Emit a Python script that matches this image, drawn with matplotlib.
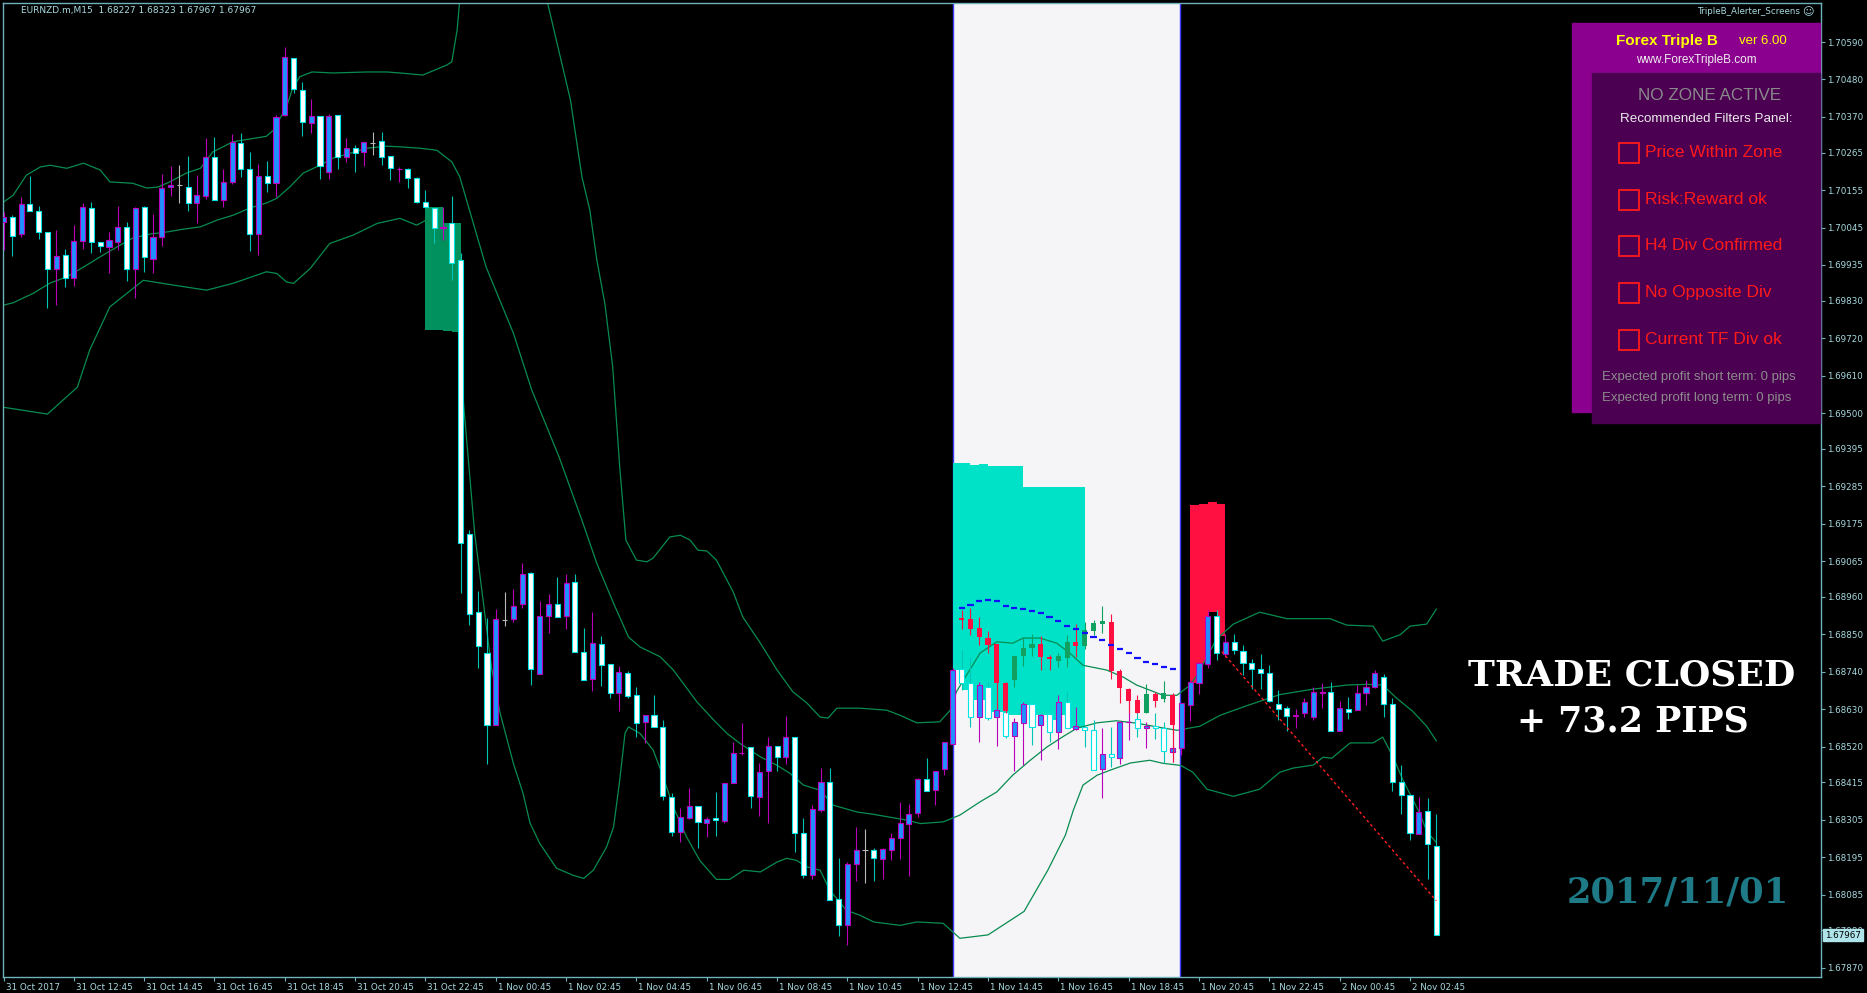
import numpy as np
import matplotlib.pyplot as plt
from matplotlib.patches import Rectangle
from matplotlib import transforms

W, H = 1867, 993
DPI = 100

# EURNZD.m M15, one candle per bar starting 31 Oct 2017 10:45, prices in points (1e-5)
opens = np.array([
    170062, 170075, 170026, 170113, 170095, 170031, 169923, 169965, 169897, 170005,
    170101, 170002, 169988, 170002, 170047, 169922, 170106, 169954, 170018, 170164,
    170169, 170163, 170117, 170138, 170253, 170125, 170178, 170292, 170218, 170025,
    170196, 170176, 170375, 170543, 170449, 170352, 170372, 170209, 170377, 170253,
    170280, 170266, 170293, 170299, 170255, 170216, 170216, 170190, 170119, 170102,
    170045, 170058, 169949, 169144, 168915, 168795, 168583, 168891, 168894, 168938,
    169030, 168733, 168903, 168938, 168903, 169003, 168797, 168718, 168821, 168762,
    168677, 168736, 168671, 168592, 168612, 168577, 168371, 168269, 168310, 168345,
    168295, 168310, 168301, 168413, 168500, 168518, 168371, 168448, 168521, 168489,
    168548, 168266, 168142, 168333, 168415, 168072, 167995, 168175, 168216, 168216,
    168189, 168216, 168251, 168292, 168324, 168424, 168392, 168454, 168527, 168748,
    168706, 168607, 168695, 168607, 168621, 168551, 168589, 168645, 168583, 168615,
    168562, 168651, 168571, 168577, 168568, 168454, 168498, 168486, 168591, 168601,
    168574, 168580, 168574, 168504, 168515, 168642, 168706, 168762, 168903, 168792,
    168827, 168800, 168765, 168748, 168736, 168645, 168633, 168611, 168618, 168607,
    168679, 168680, 168565, 168630, 168627, 168677, 168695, 168724, 168645, 168415,
    168377, 168263, 168330, 168227]) / 1e5
highs = np.array([
    170091, 170081, 170135, 170197, 170109, 170031, 170037, 169983, 170052, 170117,
    170120, 170002, 170032, 170109, 170062, 170106, 170109, 170086, 170202, 170225,
    170228, 170255, 170199, 170307, 170310, 170216, 170319, 170323, 170267, 170231,
    170240, 170375, 170574, 170543, 170473, 170422, 170372, 170378, 170377, 170307,
    170287, 170297, 170325, 170325, 170255, 170222, 170219, 170194, 170155, 170102,
    170105, 170137, 169970, 169156, 168977, 168897, 168924, 168974, 168983, 169059,
    169033, 168947, 168968, 169018, 169027, 169027, 168868, 168915, 168844, 168762,
    168756, 168742, 168695, 168612, 168671, 168598, 168383, 168339, 168398, 168345,
    168313, 168386, 168413, 168533, 168589, 168518, 168471, 168548, 168521, 168609,
    168548, 168310, 168348, 168457, 168457, 168192, 168180, 168283, 168277, 168222,
    168222, 168266, 168357, 168351, 168427, 168486, 168448, 168533, 168750, 168803,
    168783, 168709, 168709, 168648, 168621, 168604, 168651, 168648, 168615, 168618,
    168671, 168680, 168636, 168580, 168598, 168574, 168577, 168595, 168656, 168633,
    168592, 168618, 168592, 168621, 168648, 168715, 168768, 168921, 168921, 168850,
    168850, 168818, 168777, 168792, 168759, 168686, 168639, 168630, 168662, 168695,
    168706, 168709, 168654, 168665, 168701, 168715, 168745, 168733, 168662, 168465,
    168377, 168371, 168369, 168323]) / 1e5
lows = np.array([
    169979, 169961, 170016, 170095, 170010, 169810, 169817, 169871, 169873, 169983,
    169969, 169973, 169912, 169979, 169888, 169837, 169915, 169912, 169990, 170139,
    170117, 170094, 170059, 170130, 170125, 170106, 170174, 170192, 169976, 169963,
    170149, 170135, 170372, 170441, 170313, 170323, 170189, 170189, 170216, 170238,
    170209, 170226, 170258, 170228, 170184, 170178, 170161, 170117, 170105, 169999,
    170008, 169890, 168971, 168877, 168750, 168468, 168583, 168874, 168886, 168927,
    168701, 168733, 168853, 168900, 168865, 168797, 168715, 168683, 168698, 168662,
    168624, 168662, 168548, 168530, 168577, 168363, 168257, 168239, 168307, 168222,
    168254, 168257, 168295, 168413, 168495, 168339, 168316, 168295, 168448, 168468,
    168210, 168133, 168130, 168327, 168069, 167963, 167937, 168125, 168119, 168125,
    168130, 168186, 168189, 168139, 168313, 168389, 168348, 168436, 168527, 168686,
    168577, 168533, 168598, 168521, 168545, 168448, 168465, 168524, 168480, 168533,
    168512, 168574, 168568, 168518, 168451, 168369, 168460, 168468, 168539, 168548,
    168515, 168542, 168471, 168474, 168495, 168595, 168674, 168750, 168774, 168783,
    168792, 168730, 168689, 168689, 168651, 168598, 168565, 168574, 168607, 168598,
    168633, 168565, 168565, 168601, 168627, 168642, 168692, 168607, 168389, 168322,
    168245, 168263, 168130, 167967]) / 1e5
closes = np.array([
    170076, 170020, 170113, 170095, 170031, 169923, 169962, 169897, 170005, 170106,
    170002, 169990, 170008, 170047, 169922, 170101, 169959, 170018, 170160, 170169,
    170169, 170117, 170140, 170253, 170125, 170178, 170295, 170218, 170025, 170196,
    170176, 170370, 170546, 170452, 170355, 170374, 170225, 170374, 170253, 170280,
    170263, 170297, 170293, 170252, 170219, 170218, 170190, 170119, 170105, 170043,
    170047, 169940, 169118, 168909, 168815, 168583, 168894, 168891, 168933, 169027,
    168748, 168903, 168938, 168900, 169000, 168797, 168715, 168824, 168759, 168677,
    168739, 168668, 168589, 168612, 168577, 168374, 168269, 168313, 168345, 168298,
    168307, 168304, 168413, 168501, 168502, 168374, 168445, 168521, 168489, 168548,
    168266, 168142, 168336, 168415, 168069, 167995, 168175, 168216, 168216, 168192,
    168219, 168251, 168295, 168322, 168424, 168389, 168448, 168533, 168745, 168706,
    168607, 168701, 168604, 168627, 168551, 168592, 168645, 168577, 168612, 168562,
    168651, 168574, 168580, 168568, 168451, 168498, 168489, 168592, 168593, 168574,
    168580, 168574, 168507, 168515, 168648, 168709, 168765, 168903, 168795, 168827,
    168803, 168765, 168748, 168736, 168654, 168630, 168609, 168613, 168651, 168680,
    168681, 168565, 168633, 168621, 168677, 168695, 168736, 168645, 168415, 168377,
    168266, 168327, 168233, 167967]) / 1e5

# second (red/green) candle set shown inside the highlighted window
ov_start = 109
ov_open = np.array([168899, 168894, 168868, 168839, 168821, 168706, 168715, 168786, 168809, 168821,
                    168783, 168771, 168780, 168827, 168815, 168859, 168880, 168886, 168742, 168689,
                    168656, 168618, 168674, 168659, 168671]) / 1e5
ov_high = np.array([168921, 168927, 168900, 168859, 168821, 168709, 168786, 168841, 168850, 168844,
                    168789, 168795, 168847, 168880, 168886, 168891, 168933, 168909, 168748, 168692,
                    168671, 168703, 168680, 168712, 168677]) / 1e5
ov_low = np.array([168867, 168847, 168818, 168795, 168633, 168618, 168695, 168756, 168786, 168745,
                   168745, 168753, 168753, 168783, 168806, 168847, 168853, 168718, 168648, 168618,
                   168618, 168618, 168636, 168651, 168474]) / 1e5
ov_close = np.array([168893, 168867, 168841, 168818, 168706, 168624, 168786, 168809, 168821, 168783,
                     168777, 168786, 168827, 168815, 168862, 168883, 168889, 168742, 168692, 168654,
                     168618, 168674, 168654, 168677, 168583]) / 1e5
# blue step line (same bars)
step_vals = np.array([168927, 168936, 168948, 168950, 168948, 168934, 168927, 168924, 168918, 168912,
                      168900, 168889, 168874, 168865, 168853, 168841, 168833, 168818, 168806, 168795,
                      168780, 168768, 168762, 168753, 168748]) / 1e5

# Bollinger bands (bar position, price)
upper_x = [0, 1.1, 2.6, 4.2, 5.3, 7.2, 9.1, 11.0, 12.1, 14.7, 16.3, 17.6, 18.9, 20.8, 22.4, 23.8,
           26.1, 29.9, 30.7, 32.2, 32.9, 33.7, 35.1, 37.5, 41.3, 43.6, 45.1, 47.7, 50.4, 51.0,
           51.6, 52.0, 53, 56, 59, 61, 61.9, 64.5, 65.8, 66.7, 67.5, 68.4, 69.3, 70.1, 70.8,
           72.0, 73.2, 73.9, 75.8, 77.0, 78.1, 79.0, 80.0, 81.1, 83.0, 84.1, 86.1, 88.0, 89.8,
           91.4, 92.9, 93.8, 94.8, 97.4, 100.5, 102.0, 103.9, 106.5, 107.7, 108.4, 109.2, 111.1,
           113.0, 114.8, 116.0, 117.9, 119.8, 121.3, 122.8, 125.5, 127.4, 128.9, 130.4, 131.9,
           133.5, 135.0, 135.7, 138.0, 139.9, 142.9, 146.0, 150.9, 152.8, 155.8, 156.9, 158.9,
           160.0, 161.9, 163]
upper_y = np.array([170120, 170140, 170199, 170223, 170228, 170219, 170234, 170214, 170179, 170175,
                    170161, 170164, 170179, 170205, 170219, 170267, 170297, 170313, 170331, 170400,
                    170455, 170488, 170502, 170499, 170502, 170502, 170499, 170493, 170522, 170532,
                    170625, 170742, 170950, 171000, 170980, 170816, 170704, 170419, 170194, 170096,
                    169949, 169823, 169636, 169342, 169127, 169068, 169063, 169074, 169136, 169141,
                    169127, 169097, 169095, 169068, 168975, 168901, 168824, 168745, 168681, 168648,
                    168607, 168604, 168633, 168633, 168627, 168612, 168590, 168593, 168627, 168681,
                    168715, 168795, 168828, 168824, 168839, 168839, 168824, 168795, 168759, 168745,
                    168724, 168701, 168686, 168671, 168671, 168701, 168727, 168836, 168880, 168915,
                    168896, 168896, 168877, 168874, 168830, 168849, 168874, 168880, 168924]) / 1e5
mid_x = [0, 1.1, 3.4, 5.3, 7.2, 9.1, 11.0, 12.9, 14.7, 16.7, 18.6, 20.4, 22.4, 24.3, 26.1, 28.0,
         29.9, 31.1, 32.6, 34.1, 36.0, 37.5, 39.4, 41.3, 43.6, 45.1, 47.4, 49.3, 51.0, 51.9, 54.9,
         58.0, 60.1, 63.2, 65.8, 67.5, 69.4, 71.1, 72.4, 74.7, 76.2, 78.9, 80.8, 82.3, 83.8, 86.1,
         88.0, 89.5, 91.0, 92.9, 94.4, 97.1, 99.0, 102.8, 104.3, 106.9, 108.8, 111.1, 113.0, 114.8,
         116.8, 118.7, 120.5, 122.1, 124.4, 126.6, 128.9, 131.2, 133.5, 136.1, 138.4, 141.4, 145.2,
         149.0, 152.8, 155.1, 156.9, 158.5, 160.3, 161.9, 163]
mid_y = np.array([169817, 169824, 169852, 169882, 169900, 169929, 169959, 169988, 170014, 170026,
                  170032, 170040, 170047, 170067, 170081, 170102, 170117, 170131, 170165, 170205,
                  170228, 170249, 170263, 170278, 170284, 170282, 170278, 170272, 170238, 170194,
                  169929, 169735, 169567, 169371, 169185, 169058, 168941, 168842, 168813, 168784,
                  168745, 168651, 168598, 168559, 168529, 168490, 168465, 168441, 168407, 168392,
                  168348, 168328, 168321, 168304, 168294, 168299, 168319, 168358, 168387, 168436,
                  168480, 168519, 168549, 168574, 168590, 168596, 168589, 168578, 168568, 168580,
                  168612, 168640, 168673, 168689, 168701, 168703, 168701, 168662, 168624, 168580,
                  168537]) / 1e5
low_x = [0, 5.0, 8.4, 9.8, 12.1, 15.9, 19.3, 23.1, 26.1, 29.9, 31.1, 32.2, 33.0, 34.9, 37.1, 39.8,
         42.5, 45.1, 47.0, 48.1, 49.0, 51.0, 51.7, 52.3, 53.6, 54.6, 55.5, 56.5, 58.0, 59.1, 59.9,
         61.0, 62.9, 64.8, 66.0, 67.1, 68.6, 69.4, 70.1, 70.7, 71.1, 72.4, 73.9, 74.9, 76.2, 77.7,
         79.2, 81.1, 82.6, 84.2, 86.1, 88.0, 89.1, 90.2, 91.4, 92.9, 94.0, 95.9, 97.4, 99.0, 102.0,
         103.9, 106.9, 108.8, 112.0, 116.1, 118.8, 120.8, 121.7, 122.8, 124.4, 125.9, 128.2, 130.4,
         131.9, 133.9, 135.3, 136.9, 139.9, 142.9, 145.2, 146.7, 149.0, 150.1, 151.1, 153.2, 155.8,
         156.9, 158.1, 159.2, 161.1, 161.9, 163]
low_y = np.array([169517, 169497, 169576, 169685, 169812, 169890, 169876, 169861, 169881, 169915,
                  169910, 169885, 169881, 169925, 169998, 170023, 170057, 170072, 170052, 170067,
                  170037, 169973, 169871, 169538, 169146, 168941, 168754, 168618, 168471, 168383,
                  168295, 168236, 168163, 168142, 168133, 168157, 168225, 168284, 168421, 168559,
                  168578, 168559, 168510, 168442, 168343, 168255, 168186, 168130, 168130, 168157,
                  168152, 168181, 168192, 168186, 168167, 168157, 168098, 168039, 168025, 168005,
                  167995, 168005, 168001, 167957, 167967, 168036, 168157, 168260, 168333, 168407,
                  168436, 168451, 168472, 168480, 168471, 168465, 168445, 168395, 168374, 168395,
                  168445, 168457, 168466, 168489, 168486, 168531, 168531, 168548, 168489, 168422,
                  168325, 168272, 168238]) / 1e5

# zones (bar index, top, bottom)
buy_bars = [48, 49, 50, 51]
buy_top = np.array([170105, 170105, 170058, 170058]) / 1e5
buy_bot = np.array([169744, 169744, 169741, 169738]) / 1e5
teal_bars = list(range(108, 123))
teal_top = np.array([169353, 169353, 169347, 169350, 169344, 169344, 169344, 169344,
                     169282, 169282, 169282, 169282, 169282, 169282, 169282]) / 1e5
teal_bot = np.array([168745, 168686, 168656, 168656, 168621, 168621, 168612, 168612,
                     168642, 168612, 168612, 168598, 168612, 168574, 168574]) / 1e5
sell_bars = [135, 136, 137, 138]
sell_top = np.array([169229, 169232, 169238, 169232]) / 1e5
sell_bot = np.array([168706, 168765, 168915, 168844]) / 1e5

window = (108, 133.85)
trade_x = [138.6, 163]
trade_y = [1.68799, 1.68067]

time_ticks = list(range(0, 161, 8))
time_labels = ["31 Oct 2017", "31 Oct 12:45", "31 Oct 14:45", "31 Oct 16:45", "31 Oct 18:45",
               "31 Oct 20:45", "31 Oct 22:45", "1 Nov 00:45", "1 Nov 02:45", "1 Nov 04:45",
               "1 Nov 06:45", "1 Nov 08:45", "1 Nov 10:45", "1 Nov 12:45", "1 Nov 14:45",
               "1 Nov 16:45", "1 Nov 18:45", "1 Nov 20:45", "1 Nov 22:45", "2 Nov 00:45",
               "2 Nov 02:45"]
price_ticks = [1.70590, 1.70480, 1.70370, 1.70265, 1.70155, 1.70045, 1.69935, 1.69830, 1.69720,
               1.69610, 1.69500, 1.69395, 1.69285, 1.69175, 1.69065, 1.68960, 1.68850, 1.68740,
               1.68630, 1.68520, 1.68415, 1.68305, 1.68195, 1.68085, 1.67980, 1.67870]

frame = '#6fb2bb'
txt = '#a7d9df'
band = '#078c50'

fig = plt.figure(figsize=(W / DPI, H / DPI), dpi=DPI, facecolor='black')
ax = fig.add_axes([3 / W, 1 - 977 / H, 1818 / W, 974 / H], facecolor='black')
ax.set_xlim(-0.06, 206.76)
ax.set_ylim(1.678433, 1.707046)

# highlighted window
ax.axvspan(window[0], window[1], color='#f5f5f7', lw=0, zorder=0.5)
for xv in window:
    ax.axvline(xv, color='#3a3aff', lw=1, zorder=0.6)

# zones
ax.bar(buy_bars, buy_top - buy_bot, bottom=buy_bot, width=1.0, align='edge', color='#00915e', lw=0, zorder=1)
ax.bar(teal_bars, teal_top - teal_bot, bottom=teal_bot, width=1.0, align='edge', color='#00e2c8', lw=0, zorder=1)
ax.bar(sell_bars, sell_top - sell_bot, bottom=sell_bot, width=1.0, align='edge', color='#ff1040', lw=0, zorder=1)

# bands
for bx, by in [(upper_x, upper_y), (mid_x, mid_y), (low_x, low_y)]:
    ax.plot(bx, by, color=band, lw=0.9, zorder=2)

# candles
bars = np.arange(len(opens))
bull = closes > opens
bear = closes < opens
flat = closes == opens
wick_col = np.where(bull, '#bb00bb', np.where(bear, '#00c4b4', '#b8b8b8'))
ax.vlines(bars, lows, highs, colors=wick_col, lw=0.8, zorder=3)
ax.bar(bars[bull], (closes - opens)[bull], bottom=opens[bull], width=0.58,
       color='#1e90ff', edgecolor='#bb00bb', lw=0.8, zorder=3.1)
ax.bar(bars[bear], (opens - closes)[bear], bottom=closes[bear], width=0.58,
       color='white', edgecolor='#00e5e5', lw=0.8, zorder=3.1)
ax.hlines(opens[flat], bars[flat] - 0.3, bars[flat] + 0.3, color='#b8b8b8', lw=0.8, zorder=3.1)

# overlay candles
ob = np.arange(ov_start, ov_start + len(ov_open))
oup = ov_close >= ov_open
ocol = np.where(oup, '#12a060', '#ff1040')
ax.vlines(ob, ov_low, ov_high, colors=ocol, lw=0.8, zorder=4)
ax.bar(ob, np.abs(ov_close - ov_open), bottom=np.minimum(ov_open, ov_close), width=0.58,
       color=ocol, lw=0, zorder=4.1)
ax.hlines(step_vals, ob - 0.35, ob + 0.35, color='#1010ff', lw=1.6, zorder=5)

# trade line
ax.plot(trade_x, trade_y, color='#ff2020', lw=1, ls=(0, (2, 2)), zorder=5)

# axes styling
for s in ax.spines.values():
    s.set_color(frame)
    s.set_linewidth(1)
ax.set_xticks(time_ticks)
ax.set_xticklabels(time_labels, ha='left')
ax.tick_params(axis='x', length=3, width=0.8, color=frame, labelcolor=txt, labelsize=6.3, pad=1)
off = transforms.ScaledTranslation(2 / 100, 0, fig.dpi_scale_trans)
for lbl in ax.get_xticklabels():
    lbl.set_transform(lbl.get_transform() + off)
ax.yaxis.tick_right()
ax.set_yticks(price_ticks)
ax.set_yticklabels([f"{p:.5f}" for p in price_ticks])
ax.tick_params(axis='y', length=3, width=0.8, color=frame, labelcolor=txt, labelsize=6.3, pad=1.5)


def fx(x):
    return x / W


def fy(y):
    return 1 - y / H


fig.text(fx(21), fy(11), "EURNZD.m,M15  1.68227 1.68323 1.67967 1.67967",
         fontsize=6.5, color=txt, va='center', ha='left')
fig.text(fx(1800), fy(12), "TripleB_Alerter_Screens", fontsize=6.3, color=txt, va='center', ha='right')
fig.text(fx(1808), fy(12), "\u263A", fontsize=8, color=txt, va='center', ha='center')

# current price box
fig.text(fx(1825), fy(935), "1.67967", fontsize=6.3, color='black', va='center', ha='left', zorder=10,
         bbox=dict(boxstyle='square,pad=0.2', fc='#aee4ea', ec='#aee4ea'))

# info panel
fig.add_artist(Rectangle((fx(1572), fy(411.7)), (1820 - 1572) / W, (411.7 - 22.7) / H,
                         transform=fig.transFigure, color='#8b008f', zorder=5))
fig.add_artist(Rectangle((fx(1592), fy(423)), (1820 - 1592) / W, (423 - 72.7) / H,
                         transform=fig.transFigure, color='#4b0052', zorder=5.1))
pf = 'Liberation Sans'
fig.text(fx(1616), fy(41), "Forex Triple B", fontsize=11, fontweight='bold', color='#ffff00',
         family=pf, va='center', ha='left', zorder=6)
fig.text(fx(1739), fy(41), "ver 6.00", fontsize=9.5, color='#ffff00', family=pf, va='center', ha='left', zorder=6)
fig.text(fx(1696), fy(60.5), "www.ForexTripleB.com", fontsize=8.5, color='#f0f0f0', family=pf,
         va='center', ha='center', zorder=6)
fig.text(fx(1710), fy(96), "NO ZONE ACTIVE", fontsize=12.3, color='#8a8a8a', family=pf,
         va='center', ha='center', zorder=6)
fig.text(fx(1706), fy(119), "Recommended Filters Panel:", fontsize=9.6, color='#ececec', family=pf,
         va='center', ha='center', zorder=6)
filters = ["Price Within Zone", "Risk:Reward ok", "H4 Div Confirmed", "No Opposite Div", "Current TF Div ok"]
rows_y = [153, 200, 246, 293, 340]
for label, yy in zip(filters, rows_y):
    fig.add_artist(Rectangle((fx(1618.5), fy(yy + 10)), 20 / W, 20 / H, transform=fig.transFigure,
                             fill=False, ec='#ff1a1a', lw=1.3, zorder=6))
    fig.text(fx(1645), fy(yy), label, fontsize=12.5, color='#ff1a1a', family=pf,
             va='center', ha='left', zorder=6)
fig.text(fx(1601.5), fy(376.7), "Expected profit short term: 0 pips", fontsize=9.5, color='#8c8c8c',
         family=pf, va='center', ha='left', zorder=6)
fig.text(fx(1601.5), fy(397.7), "Expected profit long term: 0 pips", fontsize=9.5, color='#8c8c8c',
         family=pf, va='center', ha='left', zorder=6)

# result labels
sf = 'DejaVu Serif'
fig.text(fx(1632), fy(675), "TRADE CLOSED", fontsize=26, fontweight='bold', color='white',
         family=sf, va='center', ha='center', zorder=6)
fig.text(fx(1633), fy(721), "+ 73.2 PIPS", fontsize=25, fontweight='bold', color='white',
         family=sf, va='center', ha='center', zorder=6)
fig.text(fx(1678), fy(892), "2017/11/01", fontsize=25.5, fontweight='bold', color='#1d7a86',
         family=sf, va='center', ha='center', zorder=6)

fig.savefig("out.png", dpi=DPI, facecolor='black')
